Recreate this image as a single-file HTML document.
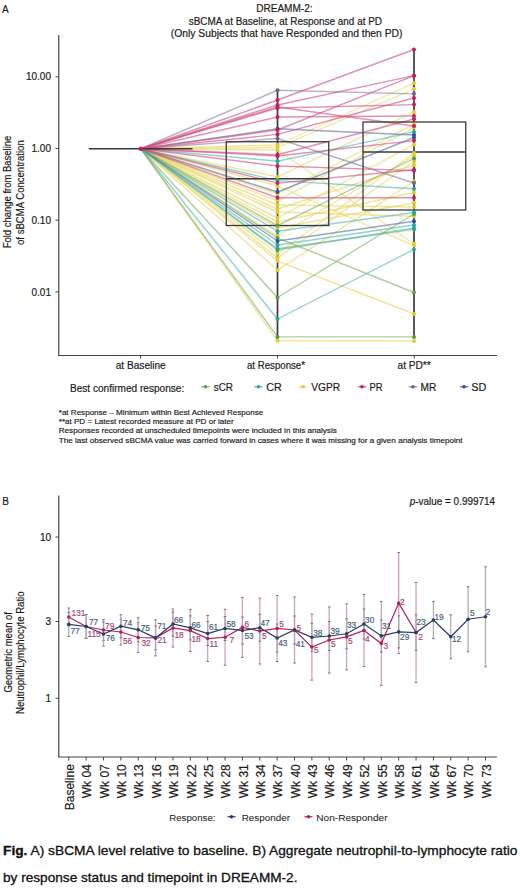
<!DOCTYPE html>
<html><head><meta charset="utf-8"><title>DREAMM-2 figure</title>
<style>
html,body{margin:0;padding:0;background:#fff;}
body{width:520px;height:890px;overflow:hidden;}
svg{display:block;font-family:"Liberation Sans", sans-serif;}
</style></head><body>
<svg width="520" height="890" viewBox="0 0 520 890">
<rect width="520" height="890" fill="#fff"/>
<text x="2.1" y="12.8" font-size="10" text-anchor="start" fill="#1a1a1a" stroke="#1a1a1a" stroke-width="0.18" >A</text>
<text x="256.25" y="12.2" font-size="10" text-anchor="start" fill="#1a1a1a" stroke="#1a1a1a" stroke-width="0.18" textLength="56.25" lengthAdjust="spacingAndGlyphs" >DREAMM-2:</text>
<text x="188.75" y="24.6" font-size="10" text-anchor="start" fill="#1a1a1a" stroke="#1a1a1a" stroke-width="0.18" textLength="193.25" lengthAdjust="spacingAndGlyphs" >sBCMA at Baseline, at Response and at PD</text>
<text x="170.75" y="37.1" font-size="10" text-anchor="start" fill="#1a1a1a" stroke="#1a1a1a" stroke-width="0.18" textLength="231.75" lengthAdjust="spacingAndGlyphs" >(Only Subjects that have Responded and then PD)</text>
<g stroke-width="1.45" stroke-opacity="0.62" fill="none">
<line x1="140.75" y1="148.75" x2="277.5" y2="145" stroke="#e8d560"/>
<line x1="140.75" y1="148.75" x2="277.5" y2="147.5" stroke="#e8d560"/>
<line x1="140.75" y1="148.75" x2="277.5" y2="176.9" stroke="#e8d560"/>
<line x1="140.75" y1="148.75" x2="277.5" y2="193.75" stroke="#e8d560"/>
<line x1="140.75" y1="148.75" x2="277.5" y2="200.6" stroke="#e8d560"/>
<line x1="140.75" y1="148.75" x2="277.5" y2="218" stroke="#e8d560"/>
<line x1="140.75" y1="148.75" x2="277.5" y2="253.75" stroke="#e8d560"/>
<line x1="140.75" y1="148.75" x2="277.5" y2="236" stroke="#e8d560"/>
<line x1="140.75" y1="148.75" x2="277.5" y2="258" stroke="#e8d560"/>
<line x1="140.75" y1="148.75" x2="277.5" y2="261" stroke="#e8d560"/>
<line x1="140.75" y1="148.75" x2="277.5" y2="209" stroke="#e8d560"/>
<line x1="140.75" y1="148.75" x2="277.5" y2="270" stroke="#e8d560"/>
<line x1="140.75" y1="148.75" x2="277.5" y2="222" stroke="#e8d560"/>
<line x1="140.75" y1="148.75" x2="277.5" y2="228" stroke="#e8d560"/>
<line x1="140.75" y1="148.75" x2="277.5" y2="205" stroke="#e8d560"/>
<line x1="140.75" y1="148.75" x2="277.5" y2="212" stroke="#e8d560"/>
<line x1="140.75" y1="148.75" x2="277.5" y2="150" stroke="#e8d560"/>
<line x1="140.75" y1="148.75" x2="277.5" y2="186" stroke="#e8d560"/>
<line x1="140.75" y1="148.75" x2="277.5" y2="340.6" stroke="#e8d560"/>
<line x1="140.75" y1="148.75" x2="277.5" y2="225.6" stroke="#7fae5f"/>
<line x1="140.75" y1="148.75" x2="277.5" y2="238" stroke="#7fae5f"/>
<line x1="140.75" y1="148.75" x2="277.5" y2="248.75" stroke="#7fae5f"/>
<line x1="140.75" y1="148.75" x2="277.5" y2="297.5" stroke="#7fae5f"/>
<line x1="140.75" y1="148.75" x2="277.5" y2="336.9" stroke="#7fae5f"/>
<line x1="140.75" y1="148.75" x2="277.5" y2="161.25" stroke="#4cb8b6"/>
<line x1="140.75" y1="148.75" x2="277.5" y2="180.6" stroke="#4cb8b6"/>
<line x1="140.75" y1="148.75" x2="277.5" y2="231.25" stroke="#4cb8b6"/>
<line x1="140.75" y1="148.75" x2="277.5" y2="245" stroke="#4cb8b6"/>
<line x1="140.75" y1="148.75" x2="277.5" y2="319" stroke="#4cb8b6"/>
<line x1="140.75" y1="148.75" x2="277.5" y2="250" stroke="#4cb8b6"/>
<line x1="140.75" y1="148.75" x2="277.5" y2="128.75" stroke="#5570aa"/>
<line x1="140.75" y1="148.75" x2="277.5" y2="192" stroke="#5570aa"/>
<line x1="140.75" y1="148.75" x2="277.5" y2="241" stroke="#5570aa"/>
<line x1="140.75" y1="148.75" x2="277.5" y2="90.25" stroke="#857fa5"/>
<line x1="140.75" y1="148.75" x2="277.5" y2="138.5" stroke="#857fa5"/>
<line x1="140.75" y1="148.75" x2="277.5" y2="100" stroke="#cf4f80"/>
<line x1="140.75" y1="148.75" x2="277.5" y2="105" stroke="#cf4f80"/>
<line x1="140.75" y1="148.75" x2="277.5" y2="108" stroke="#cf4f80"/>
<line x1="140.75" y1="148.75" x2="277.5" y2="117" stroke="#cf4f80"/>
<line x1="140.75" y1="148.75" x2="277.5" y2="134.4" stroke="#cf4f80"/>
<line x1="140.75" y1="148.75" x2="277.5" y2="154.75" stroke="#cf4f80"/>
<line x1="140.75" y1="148.75" x2="277.5" y2="156" stroke="#cf4f80"/>
<line x1="140.75" y1="148.75" x2="277.5" y2="166" stroke="#cf4f80"/>
<line x1="140.75" y1="148.75" x2="277.5" y2="183.1" stroke="#cf4f80"/>
<line x1="140.75" y1="148.75" x2="277.5" y2="197.75" stroke="#cf4f80"/>
<line x1="140.75" y1="148.75" x2="277.5" y2="130" stroke="#cf4f80"/>
<line x1="140.75" y1="148.75" x2="277.5" y2="107" stroke="#cf4f80"/>
</g>
<g stroke-width="1.35" stroke-opacity="0.62" fill="none">
<line x1="277.5" y1="145" x2="414.0" y2="83" stroke="#e8d560"/>
<line x1="277.5" y1="147.5" x2="414.0" y2="89" stroke="#e8d560"/>
<line x1="277.5" y1="176.9" x2="414.0" y2="112" stroke="#e8d560"/>
<line x1="277.5" y1="193.75" x2="414.0" y2="124.4" stroke="#e8d560"/>
<line x1="277.5" y1="200.6" x2="414.0" y2="127.5" stroke="#e8d560"/>
<line x1="277.5" y1="218" x2="414.0" y2="144.4" stroke="#e8d560"/>
<line x1="277.5" y1="253.75" x2="414.0" y2="153" stroke="#e8d560"/>
<line x1="277.5" y1="236" x2="414.0" y2="156" stroke="#e8d560"/>
<line x1="277.5" y1="258" x2="414.0" y2="161.25" stroke="#e8d560"/>
<line x1="277.5" y1="261" x2="414.0" y2="314" stroke="#e8d560"/>
<line x1="277.5" y1="209" x2="414.0" y2="165" stroke="#e8d560"/>
<line x1="277.5" y1="270" x2="414.0" y2="181.25" stroke="#e8d560"/>
<line x1="277.5" y1="222" x2="414.0" y2="192.5" stroke="#e8d560"/>
<line x1="277.5" y1="228" x2="414.0" y2="202.75" stroke="#e8d560"/>
<line x1="277.5" y1="205" x2="414.0" y2="207" stroke="#e8d560"/>
<line x1="277.5" y1="212" x2="414.0" y2="216.25" stroke="#e8d560"/>
<line x1="277.5" y1="150" x2="414.0" y2="243.75" stroke="#e8d560"/>
<line x1="277.5" y1="186" x2="414.0" y2="245.6" stroke="#e8d560"/>
<line x1="277.5" y1="340.6" x2="414.0" y2="341" stroke="#e8d560"/>
<line x1="277.5" y1="225.6" x2="414.0" y2="158.5" stroke="#7fae5f"/>
<line x1="277.5" y1="238" x2="414.0" y2="292.5" stroke="#7fae5f"/>
<line x1="277.5" y1="248.75" x2="414.0" y2="229.4" stroke="#7fae5f"/>
<line x1="277.5" y1="297.5" x2="414.0" y2="214" stroke="#7fae5f"/>
<line x1="277.5" y1="336.9" x2="414.0" y2="336.9" stroke="#7fae5f"/>
<line x1="277.5" y1="161.25" x2="414.0" y2="131.9" stroke="#4cb8b6"/>
<line x1="277.5" y1="180.6" x2="414.0" y2="188.75" stroke="#4cb8b6"/>
<line x1="277.5" y1="231.25" x2="414.0" y2="212.5" stroke="#4cb8b6"/>
<line x1="277.5" y1="245" x2="414.0" y2="225" stroke="#4cb8b6"/>
<line x1="277.5" y1="319" x2="414.0" y2="249.4" stroke="#4cb8b6"/>
<line x1="277.5" y1="250" x2="414.0" y2="228" stroke="#4cb8b6"/>
<line x1="277.5" y1="128.75" x2="414.0" y2="135" stroke="#5570aa"/>
<line x1="277.5" y1="192" x2="414.0" y2="137.5" stroke="#5570aa"/>
<line x1="277.5" y1="241" x2="414.0" y2="221.25" stroke="#5570aa"/>
<line x1="277.5" y1="90.25" x2="414.0" y2="93.8" stroke="#857fa5"/>
<line x1="277.5" y1="138.5" x2="414.0" y2="183" stroke="#857fa5"/>
<line x1="277.5" y1="100" x2="414.0" y2="49.5" stroke="#cf4f80"/>
<line x1="277.5" y1="105" x2="414.0" y2="75.7" stroke="#cf4f80"/>
<line x1="277.5" y1="108" x2="414.0" y2="104.6" stroke="#cf4f80"/>
<line x1="277.5" y1="117" x2="414.0" y2="116" stroke="#cf4f80"/>
<line x1="277.5" y1="134.4" x2="414.0" y2="98" stroke="#cf4f80"/>
<line x1="277.5" y1="154.75" x2="414.0" y2="119" stroke="#cf4f80"/>
<line x1="277.5" y1="156" x2="414.0" y2="140.6" stroke="#cf4f80"/>
<line x1="277.5" y1="166" x2="414.0" y2="170.6" stroke="#cf4f80"/>
<line x1="277.5" y1="183.1" x2="414.0" y2="169.75" stroke="#cf4f80"/>
<line x1="277.5" y1="197.75" x2="414.0" y2="197.75" stroke="#cf4f80"/>
<line x1="277.5" y1="130" x2="414.0" y2="75.7" stroke="#cf4f80"/>
<line x1="277.5" y1="107" x2="414.0" y2="126" stroke="#cf4f80"/>
</g>
<line x1="88.75" y1="148.75" x2="192.50" y2="148.75" stroke="#3a3a3a" stroke-width="1.5" />
<line x1="277.50" y1="90.25" x2="277.50" y2="336.90" stroke="#3a3a3a" stroke-width="1.7" />
<line x1="414.00" y1="49.50" x2="414.00" y2="337.00" stroke="#3a3a3a" stroke-width="1.7" />
<rect x="226.25" y="141.75" width="102.5" height="83.75" fill="none" stroke="#3a3a3a" stroke-width="1.3"/>
<line x1="226.25" y1="178.75" x2="328.75" y2="178.75" stroke="#3a3a3a" stroke-width="1.3" />
<rect x="363" y="122" width="102.75" height="88" fill="none" stroke="#3a3a3a" stroke-width="1.3"/>
<line x1="363.00" y1="152.00" x2="465.75" y2="152.00" stroke="#3a3a3a" stroke-width="1.3" />
<circle cx="140.75" cy="148.75" r="2.2" fill="#c81c5c"/>
<circle cx="277.5" cy="145" r="2" fill="#e2cc2c"/>
<circle cx="414.0" cy="83" r="2" fill="#e2cc2c"/>
<circle cx="277.5" cy="147.5" r="2" fill="#e2cc2c"/>
<circle cx="414.0" cy="89" r="2" fill="#e2cc2c"/>
<circle cx="277.5" cy="176.9" r="2" fill="#e2cc2c"/>
<circle cx="414.0" cy="112" r="2" fill="#e2cc2c"/>
<circle cx="277.5" cy="193.75" r="2" fill="#e2cc2c"/>
<circle cx="414.0" cy="124.4" r="2" fill="#e2cc2c"/>
<circle cx="277.5" cy="200.6" r="2" fill="#e2cc2c"/>
<circle cx="414.0" cy="127.5" r="2" fill="#e2cc2c"/>
<circle cx="277.5" cy="218" r="2" fill="#e2cc2c"/>
<circle cx="414.0" cy="144.4" r="2" fill="#e2cc2c"/>
<circle cx="277.5" cy="253.75" r="2" fill="#e2cc2c"/>
<circle cx="414.0" cy="153" r="2" fill="#e2cc2c"/>
<circle cx="277.5" cy="236" r="2" fill="#e2cc2c"/>
<circle cx="414.0" cy="156" r="2" fill="#e2cc2c"/>
<circle cx="277.5" cy="258" r="2" fill="#e2cc2c"/>
<circle cx="414.0" cy="161.25" r="2" fill="#e2cc2c"/>
<circle cx="277.5" cy="261" r="2" fill="#e2cc2c"/>
<circle cx="414.0" cy="314" r="2" fill="#e2cc2c"/>
<circle cx="277.5" cy="209" r="2" fill="#e2cc2c"/>
<circle cx="414.0" cy="165" r="2" fill="#e2cc2c"/>
<circle cx="277.5" cy="270" r="2" fill="#e2cc2c"/>
<circle cx="414.0" cy="181.25" r="2" fill="#e2cc2c"/>
<circle cx="277.5" cy="222" r="2" fill="#e2cc2c"/>
<circle cx="414.0" cy="192.5" r="2" fill="#e2cc2c"/>
<circle cx="277.5" cy="228" r="2" fill="#e2cc2c"/>
<circle cx="414.0" cy="202.75" r="2" fill="#e2cc2c"/>
<circle cx="277.5" cy="205" r="2" fill="#e2cc2c"/>
<circle cx="414.0" cy="207" r="2" fill="#e2cc2c"/>
<circle cx="277.5" cy="212" r="2" fill="#e2cc2c"/>
<circle cx="414.0" cy="216.25" r="2" fill="#e2cc2c"/>
<circle cx="277.5" cy="150" r="2" fill="#e2cc2c"/>
<circle cx="414.0" cy="243.75" r="2" fill="#e2cc2c"/>
<circle cx="277.5" cy="186" r="2" fill="#e2cc2c"/>
<circle cx="414.0" cy="245.6" r="2" fill="#e2cc2c"/>
<circle cx="277.5" cy="340.6" r="2" fill="#e2cc2c"/>
<circle cx="414.0" cy="341" r="2" fill="#e2cc2c"/>
<circle cx="277.5" cy="225.6" r="2" fill="#5e9a4a"/>
<circle cx="414.0" cy="158.5" r="2" fill="#5e9a4a"/>
<circle cx="277.5" cy="238" r="2" fill="#5e9a4a"/>
<circle cx="414.0" cy="292.5" r="2" fill="#5e9a4a"/>
<circle cx="277.5" cy="248.75" r="2" fill="#5e9a4a"/>
<circle cx="414.0" cy="229.4" r="2" fill="#5e9a4a"/>
<circle cx="277.5" cy="297.5" r="2" fill="#5e9a4a"/>
<circle cx="414.0" cy="214" r="2" fill="#5e9a4a"/>
<circle cx="277.5" cy="336.9" r="2" fill="#5e9a4a"/>
<circle cx="414.0" cy="336.9" r="2" fill="#5e9a4a"/>
<circle cx="277.5" cy="161.25" r="2" fill="#1fa9a3"/>
<circle cx="414.0" cy="131.9" r="2" fill="#1fa9a3"/>
<circle cx="277.5" cy="180.6" r="2" fill="#1fa9a3"/>
<circle cx="414.0" cy="188.75" r="2" fill="#1fa9a3"/>
<circle cx="277.5" cy="231.25" r="2" fill="#1fa9a3"/>
<circle cx="414.0" cy="212.5" r="2" fill="#1fa9a3"/>
<circle cx="277.5" cy="245" r="2" fill="#1fa9a3"/>
<circle cx="414.0" cy="225" r="2" fill="#1fa9a3"/>
<circle cx="277.5" cy="319" r="2" fill="#1fa9a3"/>
<circle cx="414.0" cy="249.4" r="2" fill="#1fa9a3"/>
<circle cx="277.5" cy="250" r="2" fill="#1fa9a3"/>
<circle cx="414.0" cy="228" r="2" fill="#1fa9a3"/>
<circle cx="277.5" cy="128.75" r="2" fill="#2d4f93"/>
<circle cx="414.0" cy="135" r="2" fill="#2d4f93"/>
<circle cx="277.5" cy="192" r="2" fill="#2d4f93"/>
<circle cx="414.0" cy="137.5" r="2" fill="#2d4f93"/>
<circle cx="277.5" cy="241" r="2" fill="#2d4f93"/>
<circle cx="414.0" cy="221.25" r="2" fill="#2d4f93"/>
<circle cx="277.5" cy="90.25" r="2" fill="#6d6591"/>
<circle cx="414.0" cy="93.8" r="2" fill="#6d6591"/>
<circle cx="277.5" cy="138.5" r="2" fill="#6d6591"/>
<circle cx="414.0" cy="183" r="2" fill="#6d6591"/>
<circle cx="277.5" cy="100" r="2" fill="#c81c5c"/>
<circle cx="414.0" cy="49.5" r="2" fill="#c81c5c"/>
<circle cx="277.5" cy="105" r="2" fill="#c81c5c"/>
<circle cx="414.0" cy="75.7" r="2" fill="#c81c5c"/>
<circle cx="277.5" cy="108" r="2" fill="#c81c5c"/>
<circle cx="414.0" cy="104.6" r="2" fill="#c81c5c"/>
<circle cx="277.5" cy="117" r="2" fill="#c81c5c"/>
<circle cx="414.0" cy="116" r="2" fill="#c81c5c"/>
<circle cx="277.5" cy="134.4" r="2" fill="#c81c5c"/>
<circle cx="414.0" cy="98" r="2" fill="#c81c5c"/>
<circle cx="277.5" cy="154.75" r="2" fill="#c81c5c"/>
<circle cx="414.0" cy="119" r="2" fill="#c81c5c"/>
<circle cx="277.5" cy="156" r="2" fill="#c81c5c"/>
<circle cx="414.0" cy="140.6" r="2" fill="#c81c5c"/>
<circle cx="277.5" cy="166" r="2" fill="#c81c5c"/>
<circle cx="414.0" cy="170.6" r="2" fill="#c81c5c"/>
<circle cx="277.5" cy="183.1" r="2" fill="#c81c5c"/>
<circle cx="414.0" cy="169.75" r="2" fill="#c81c5c"/>
<circle cx="277.5" cy="197.75" r="2" fill="#c81c5c"/>
<circle cx="414.0" cy="197.75" r="2" fill="#c81c5c"/>
<circle cx="277.5" cy="130" r="2" fill="#c81c5c"/>
<circle cx="414.0" cy="75.7" r="2" fill="#c81c5c"/>
<circle cx="277.5" cy="107" r="2" fill="#c81c5c"/>
<circle cx="414.0" cy="126" r="2" fill="#c81c5c"/>
<line x1="58.75" y1="35.00" x2="58.75" y2="355.50" stroke="#444" stroke-width="1.2" />
<line x1="58.15" y1="355.50" x2="497.00" y2="355.50" stroke="#444" stroke-width="1.2" />
<line x1="55.50" y1="76.80" x2="58.75" y2="76.80" stroke="#444" stroke-width="1" />
<text x="51" y="80.39999999999999" font-size="10" text-anchor="end" fill="#1a1a1a" stroke="#1a1a1a" stroke-width="0.18" >10.00</text>
<line x1="55.50" y1="148.50" x2="58.75" y2="148.50" stroke="#444" stroke-width="1" />
<text x="51" y="152.1" font-size="10" text-anchor="end" fill="#1a1a1a" stroke="#1a1a1a" stroke-width="0.18" >1.00</text>
<line x1="55.50" y1="220.20" x2="58.75" y2="220.20" stroke="#444" stroke-width="1" />
<text x="51" y="223.79999999999998" font-size="10" text-anchor="end" fill="#1a1a1a" stroke="#1a1a1a" stroke-width="0.18" >0.10</text>
<line x1="55.50" y1="291.90" x2="58.75" y2="291.90" stroke="#444" stroke-width="1" />
<text x="51" y="295.5" font-size="10" text-anchor="end" fill="#1a1a1a" stroke="#1a1a1a" stroke-width="0.18" >0.01</text>
<line x1="140.50" y1="355.50" x2="140.50" y2="358.50" stroke="#444" stroke-width="1" />
<line x1="277.50" y1="355.50" x2="277.50" y2="358.50" stroke="#444" stroke-width="1" />
<line x1="414.25" y1="355.50" x2="414.25" y2="358.50" stroke="#444" stroke-width="1" />
<text x="115.75" y="369.2" font-size="10" text-anchor="start" fill="#1a1a1a" stroke="#1a1a1a" stroke-width="0.18" textLength="50" lengthAdjust="spacingAndGlyphs" >at Baseline</text>
<text x="247" y="369.2" font-size="10" text-anchor="start" fill="#1a1a1a" stroke="#1a1a1a" stroke-width="0.18" textLength="58" lengthAdjust="spacingAndGlyphs" >at Response*</text>
<text x="397.5" y="369.2" font-size="10" text-anchor="start" fill="#1a1a1a" stroke="#1a1a1a" stroke-width="0.18" textLength="33.25" lengthAdjust="spacingAndGlyphs" >at PD**</text>
<text transform="translate(11.4,192) rotate(-90)" font-size="10" text-anchor="middle" fill="#1a1a1a" stroke="#1a1a1a" stroke-width="0.18" textLength="112.6" lengthAdjust="spacingAndGlyphs">Fold change from Baseline</text>
<text transform="translate(23.5,192.6) rotate(-90)" font-size="10" text-anchor="middle" fill="#1a1a1a" stroke="#1a1a1a" stroke-width="0.18" textLength="104.7" lengthAdjust="spacingAndGlyphs">of sBCMA Concentration</text>
<text x="70" y="391.5" font-size="10" text-anchor="start" fill="#1a1a1a" stroke="#1a1a1a" stroke-width="0.18" textLength="114.25" lengthAdjust="spacingAndGlyphs" >Best confirmed response:</text>
<line x1="201.20" y1="386.80" x2="209.60" y2="386.80" stroke="#7fae5f" stroke-width="1.2" />
<circle cx="205.4" cy="386.8" r="1.8" fill="#5e9a4a"/>
<text x="213.75" y="391.4" font-size="10" text-anchor="start" fill="#1a1a1a" stroke="#1a1a1a" stroke-width="0.18" textLength="19.25" lengthAdjust="spacingAndGlyphs" >sCR</text>
<line x1="254.30" y1="386.80" x2="262.70" y2="386.80" stroke="#4cb8b6" stroke-width="1.2" />
<circle cx="258.5" cy="386.8" r="1.8" fill="#1fa9a3"/>
<text x="266.25" y="391.4" font-size="10" text-anchor="start" fill="#1a1a1a" stroke="#1a1a1a" stroke-width="0.18" textLength="15.5" lengthAdjust="spacingAndGlyphs" >CR</text>
<line x1="298.90" y1="386.80" x2="307.30" y2="386.80" stroke="#e8d560" stroke-width="1.2" />
<circle cx="303.1" cy="386.8" r="1.8" fill="#e2cc2c"/>
<text x="311.25" y="391.4" font-size="10" text-anchor="start" fill="#1a1a1a" stroke="#1a1a1a" stroke-width="0.18" textLength="28.75" lengthAdjust="spacingAndGlyphs" >VGPR</text>
<line x1="357.70" y1="386.80" x2="366.10" y2="386.80" stroke="#cf4f80" stroke-width="1.2" />
<circle cx="361.9" cy="386.8" r="1.8" fill="#c81c5c"/>
<text x="369.5" y="391.4" font-size="10" text-anchor="start" fill="#1a1a1a" stroke="#1a1a1a" stroke-width="0.18" textLength="13" lengthAdjust="spacingAndGlyphs" >PR</text>
<line x1="408.70" y1="386.80" x2="417.10" y2="386.80" stroke="#857fa5" stroke-width="1.2" />
<circle cx="412.9" cy="386.8" r="1.8" fill="#6d6591"/>
<text x="420.5" y="391.4" font-size="10" text-anchor="start" fill="#1a1a1a" stroke="#1a1a1a" stroke-width="0.18" textLength="15.75" lengthAdjust="spacingAndGlyphs" >MR</text>
<line x1="459.80" y1="386.80" x2="468.20" y2="386.80" stroke="#5570aa" stroke-width="1.2" />
<circle cx="464" cy="386.8" r="1.8" fill="#2d4f93"/>
<text x="471.25" y="391.4" font-size="10" text-anchor="start" fill="#1a1a1a" stroke="#1a1a1a" stroke-width="0.18" textLength="15" lengthAdjust="spacingAndGlyphs" >SD</text>
<text x="58.75" y="414.5" font-size="8.1" text-anchor="start" fill="#1a1a1a" stroke="#1a1a1a" stroke-width="0.18" textLength="204.5" lengthAdjust="spacingAndGlyphs" >*at Response – Minimum within Best Achieved Response</text>
<text x="58.75" y="423.92" font-size="8.1" text-anchor="start" fill="#1a1a1a" stroke="#1a1a1a" stroke-width="0.18" textLength="175" lengthAdjust="spacingAndGlyphs" >**at PD = Latest recorded measure at PD or later</text>
<text x="58.75" y="433.34" font-size="8.1" text-anchor="start" fill="#1a1a1a" stroke="#1a1a1a" stroke-width="0.18" textLength="278" lengthAdjust="spacingAndGlyphs" >Responses recorded at unscheduled timepoints were included in this analysis</text>
<text x="58.75" y="442.76" font-size="8.1" text-anchor="start" fill="#1a1a1a" stroke="#1a1a1a" stroke-width="0.18" textLength="403.75" lengthAdjust="spacingAndGlyphs" >The last observed sBCMA value was carried forward in cases where it was missing for a given analysis timepoint</text>
<text x="2.3" y="504.7" font-size="10" text-anchor="start" fill="#1a1a1a" stroke="#1a1a1a" stroke-width="0.18" >B</text>
<line x1="58.75" y1="495.50" x2="58.75" y2="757.00" stroke="#444" stroke-width="1.2" />
<line x1="58.15" y1="757.00" x2="497.00" y2="757.00" stroke="#444" stroke-width="1.2" />
<line x1="55.50" y1="537.00" x2="58.75" y2="537.00" stroke="#444" stroke-width="1" />
<text x="51" y="540.6" font-size="10" text-anchor="end" fill="#1a1a1a" stroke="#1a1a1a" stroke-width="0.18" >10</text>
<line x1="55.50" y1="621.50" x2="58.75" y2="621.50" stroke="#444" stroke-width="1" />
<text x="51" y="625.1" font-size="10" text-anchor="end" fill="#1a1a1a" stroke="#1a1a1a" stroke-width="0.18" >3</text>
<line x1="55.50" y1="698.25" x2="58.75" y2="698.25" stroke="#444" stroke-width="1" />
<text x="51" y="701.85" font-size="10" text-anchor="end" fill="#1a1a1a" stroke="#1a1a1a" stroke-width="0.18" >1</text>
<text x="409.7" y="504.6" font-size="10" text-anchor="start" fill="#1a1a1a" stroke="#1a1a1a" stroke-width="0.18" textLength="85.4" lengthAdjust="spacingAndGlyphs" ><tspan font-style="italic">p</tspan>-value = 0.999714</text>
<text transform="translate(11.9,652.3) rotate(-90)" font-size="10" text-anchor="middle" fill="#1a1a1a" stroke="#1a1a1a" stroke-width="0.18" textLength="80.5" lengthAdjust="spacingAndGlyphs">Geometric mean of</text>
<text transform="translate(23.6,652.75) rotate(-90)" font-size="10" text-anchor="middle" fill="#1a1a1a" stroke="#1a1a1a" stroke-width="0.18" textLength="122.5" lengthAdjust="spacingAndGlyphs">Neutrophil/Lymphocyte Ratio</text>
<line x1="68.75" y1="757.00" x2="68.75" y2="760.50" stroke="#444" stroke-width="1" />
<text transform="translate(73.95,764.2) rotate(-90)" font-size="12" text-anchor="end" fill="#1a1a1a" stroke="#1a1a1a" stroke-width="0.18">Baseline</text>
<line x1="86.11" y1="757.00" x2="86.11" y2="760.50" stroke="#444" stroke-width="1" />
<text transform="translate(91.31,764.2) rotate(-90)" font-size="12" text-anchor="end" fill="#1a1a1a" stroke="#1a1a1a" stroke-width="0.18">Wk 04</text>
<line x1="103.48" y1="757.00" x2="103.48" y2="760.50" stroke="#444" stroke-width="1" />
<text transform="translate(108.68,764.2) rotate(-90)" font-size="12" text-anchor="end" fill="#1a1a1a" stroke="#1a1a1a" stroke-width="0.18">Wk 07</text>
<line x1="120.84" y1="757.00" x2="120.84" y2="760.50" stroke="#444" stroke-width="1" />
<text transform="translate(126.05,764.2) rotate(-90)" font-size="12" text-anchor="end" fill="#1a1a1a" stroke="#1a1a1a" stroke-width="0.18">Wk 10</text>
<line x1="138.21" y1="757.00" x2="138.21" y2="760.50" stroke="#444" stroke-width="1" />
<text transform="translate(143.41,764.2) rotate(-90)" font-size="12" text-anchor="end" fill="#1a1a1a" stroke="#1a1a1a" stroke-width="0.18">Wk 13</text>
<line x1="155.57" y1="757.00" x2="155.57" y2="760.50" stroke="#444" stroke-width="1" />
<text transform="translate(160.77,764.2) rotate(-90)" font-size="12" text-anchor="end" fill="#1a1a1a" stroke="#1a1a1a" stroke-width="0.18">Wk 16</text>
<line x1="172.94" y1="757.00" x2="172.94" y2="760.50" stroke="#444" stroke-width="1" />
<text transform="translate(178.14,764.2) rotate(-90)" font-size="12" text-anchor="end" fill="#1a1a1a" stroke="#1a1a1a" stroke-width="0.18">Wk 19</text>
<line x1="190.31" y1="757.00" x2="190.31" y2="760.50" stroke="#444" stroke-width="1" />
<text transform="translate(195.50,764.2) rotate(-90)" font-size="12" text-anchor="end" fill="#1a1a1a" stroke="#1a1a1a" stroke-width="0.18">Wk 22</text>
<line x1="207.67" y1="757.00" x2="207.67" y2="760.50" stroke="#444" stroke-width="1" />
<text transform="translate(212.87,764.2) rotate(-90)" font-size="12" text-anchor="end" fill="#1a1a1a" stroke="#1a1a1a" stroke-width="0.18">Wk 25</text>
<line x1="225.03" y1="757.00" x2="225.03" y2="760.50" stroke="#444" stroke-width="1" />
<text transform="translate(230.23,764.2) rotate(-90)" font-size="12" text-anchor="end" fill="#1a1a1a" stroke="#1a1a1a" stroke-width="0.18">Wk 28</text>
<line x1="242.40" y1="757.00" x2="242.40" y2="760.50" stroke="#444" stroke-width="1" />
<text transform="translate(247.60,764.2) rotate(-90)" font-size="12" text-anchor="end" fill="#1a1a1a" stroke="#1a1a1a" stroke-width="0.18">Wk 31</text>
<line x1="259.76" y1="757.00" x2="259.76" y2="760.50" stroke="#444" stroke-width="1" />
<text transform="translate(264.96,764.2) rotate(-90)" font-size="12" text-anchor="end" fill="#1a1a1a" stroke="#1a1a1a" stroke-width="0.18">Wk 34</text>
<line x1="277.13" y1="757.00" x2="277.13" y2="760.50" stroke="#444" stroke-width="1" />
<text transform="translate(282.33,764.2) rotate(-90)" font-size="12" text-anchor="end" fill="#1a1a1a" stroke="#1a1a1a" stroke-width="0.18">Wk 37</text>
<line x1="294.50" y1="757.00" x2="294.50" y2="760.50" stroke="#444" stroke-width="1" />
<text transform="translate(299.69,764.2) rotate(-90)" font-size="12" text-anchor="end" fill="#1a1a1a" stroke="#1a1a1a" stroke-width="0.18">Wk 40</text>
<line x1="311.86" y1="757.00" x2="311.86" y2="760.50" stroke="#444" stroke-width="1" />
<text transform="translate(317.06,764.2) rotate(-90)" font-size="12" text-anchor="end" fill="#1a1a1a" stroke="#1a1a1a" stroke-width="0.18">Wk 43</text>
<line x1="329.22" y1="757.00" x2="329.22" y2="760.50" stroke="#444" stroke-width="1" />
<text transform="translate(334.42,764.2) rotate(-90)" font-size="12" text-anchor="end" fill="#1a1a1a" stroke="#1a1a1a" stroke-width="0.18">Wk 46</text>
<line x1="346.59" y1="757.00" x2="346.59" y2="760.50" stroke="#444" stroke-width="1" />
<text transform="translate(351.79,764.2) rotate(-90)" font-size="12" text-anchor="end" fill="#1a1a1a" stroke="#1a1a1a" stroke-width="0.18">Wk 49</text>
<line x1="363.95" y1="757.00" x2="363.95" y2="760.50" stroke="#444" stroke-width="1" />
<text transform="translate(369.15,764.2) rotate(-90)" font-size="12" text-anchor="end" fill="#1a1a1a" stroke="#1a1a1a" stroke-width="0.18">Wk 52</text>
<line x1="381.32" y1="757.00" x2="381.32" y2="760.50" stroke="#444" stroke-width="1" />
<text transform="translate(386.52,764.2) rotate(-90)" font-size="12" text-anchor="end" fill="#1a1a1a" stroke="#1a1a1a" stroke-width="0.18">Wk 55</text>
<line x1="398.68" y1="757.00" x2="398.68" y2="760.50" stroke="#444" stroke-width="1" />
<text transform="translate(403.88,764.2) rotate(-90)" font-size="12" text-anchor="end" fill="#1a1a1a" stroke="#1a1a1a" stroke-width="0.18">Wk 58</text>
<line x1="416.05" y1="757.00" x2="416.05" y2="760.50" stroke="#444" stroke-width="1" />
<text transform="translate(421.25,764.2) rotate(-90)" font-size="12" text-anchor="end" fill="#1a1a1a" stroke="#1a1a1a" stroke-width="0.18">Wk 61</text>
<line x1="433.41" y1="757.00" x2="433.41" y2="760.50" stroke="#444" stroke-width="1" />
<text transform="translate(438.61,764.2) rotate(-90)" font-size="12" text-anchor="end" fill="#1a1a1a" stroke="#1a1a1a" stroke-width="0.18">Wk 64</text>
<line x1="450.78" y1="757.00" x2="450.78" y2="760.50" stroke="#444" stroke-width="1" />
<text transform="translate(455.98,764.2) rotate(-90)" font-size="12" text-anchor="end" fill="#1a1a1a" stroke="#1a1a1a" stroke-width="0.18">Wk 67</text>
<line x1="468.14" y1="757.00" x2="468.14" y2="760.50" stroke="#444" stroke-width="1" />
<text transform="translate(473.34,764.2) rotate(-90)" font-size="12" text-anchor="end" fill="#1a1a1a" stroke="#1a1a1a" stroke-width="0.18">Wk 70</text>
<line x1="485.51" y1="757.00" x2="485.51" y2="760.50" stroke="#444" stroke-width="1" />
<text transform="translate(490.71,764.2) rotate(-90)" font-size="12" text-anchor="end" fill="#1a1a1a" stroke="#1a1a1a" stroke-width="0.18">Wk 73</text>
<line x1="68.75" y1="608.00" x2="68.75" y2="626.00" stroke="#d4a2b6" stroke-width="1.3" />
<line x1="67.45" y1="608.00" x2="70.05" y2="608.00" stroke="#75757d" stroke-width="1" />
<line x1="67.45" y1="626.00" x2="70.05" y2="626.00" stroke="#75757d" stroke-width="1" />
<line x1="86.11" y1="614.50" x2="86.11" y2="638.50" stroke="#d4a2b6" stroke-width="1.3" />
<line x1="84.81" y1="614.50" x2="87.41" y2="614.50" stroke="#75757d" stroke-width="1" />
<line x1="84.81" y1="638.50" x2="87.41" y2="638.50" stroke="#75757d" stroke-width="1" />
<line x1="103.48" y1="619.50" x2="103.48" y2="640.50" stroke="#d4a2b6" stroke-width="1.3" />
<line x1="102.18" y1="619.50" x2="104.78" y2="619.50" stroke="#75757d" stroke-width="1" />
<line x1="102.18" y1="640.50" x2="104.78" y2="640.50" stroke="#75757d" stroke-width="1" />
<line x1="120.84" y1="619.00" x2="120.84" y2="645.00" stroke="#d4a2b6" stroke-width="1.3" />
<line x1="119.55" y1="619.00" x2="122.14" y2="619.00" stroke="#75757d" stroke-width="1" />
<line x1="119.55" y1="645.00" x2="122.14" y2="645.00" stroke="#75757d" stroke-width="1" />
<line x1="138.21" y1="622.50" x2="138.21" y2="652.50" stroke="#d4a2b6" stroke-width="1.3" />
<line x1="136.91" y1="622.50" x2="139.51" y2="622.50" stroke="#75757d" stroke-width="1" />
<line x1="136.91" y1="652.50" x2="139.51" y2="652.50" stroke="#75757d" stroke-width="1" />
<line x1="155.57" y1="619.90" x2="155.57" y2="655.90" stroke="#d4a2b6" stroke-width="1.3" />
<line x1="154.27" y1="619.90" x2="156.88" y2="619.90" stroke="#75757d" stroke-width="1" />
<line x1="154.27" y1="655.90" x2="156.88" y2="655.90" stroke="#75757d" stroke-width="1" />
<line x1="172.94" y1="609.00" x2="172.94" y2="647.00" stroke="#d4a2b6" stroke-width="1.3" />
<line x1="171.64" y1="609.00" x2="174.24" y2="609.00" stroke="#75757d" stroke-width="1" />
<line x1="171.64" y1="647.00" x2="174.24" y2="647.00" stroke="#75757d" stroke-width="1" />
<line x1="190.31" y1="609.60" x2="190.31" y2="651.60" stroke="#d4a2b6" stroke-width="1.3" />
<line x1="189.00" y1="609.60" x2="191.61" y2="609.60" stroke="#75757d" stroke-width="1" />
<line x1="189.00" y1="651.60" x2="191.61" y2="651.60" stroke="#75757d" stroke-width="1" />
<line x1="207.67" y1="615.50" x2="207.67" y2="661.50" stroke="#d4a2b6" stroke-width="1.3" />
<line x1="206.37" y1="615.50" x2="208.97" y2="615.50" stroke="#75757d" stroke-width="1" />
<line x1="206.37" y1="661.50" x2="208.97" y2="661.50" stroke="#75757d" stroke-width="1" />
<line x1="225.03" y1="609.25" x2="225.03" y2="665.25" stroke="#d4a2b6" stroke-width="1.3" />
<line x1="223.73" y1="609.25" x2="226.34" y2="609.25" stroke="#75757d" stroke-width="1" />
<line x1="223.73" y1="665.25" x2="226.34" y2="665.25" stroke="#75757d" stroke-width="1" />
<line x1="242.40" y1="597.40" x2="242.40" y2="657.40" stroke="#d4a2b6" stroke-width="1.3" />
<line x1="241.10" y1="597.40" x2="243.70" y2="597.40" stroke="#75757d" stroke-width="1" />
<line x1="241.10" y1="657.40" x2="243.70" y2="657.40" stroke="#75757d" stroke-width="1" />
<line x1="259.76" y1="598.00" x2="259.76" y2="664.00" stroke="#d4a2b6" stroke-width="1.3" />
<line x1="258.46" y1="598.00" x2="261.06" y2="598.00" stroke="#75757d" stroke-width="1" />
<line x1="258.46" y1="664.00" x2="261.06" y2="664.00" stroke="#75757d" stroke-width="1" />
<line x1="277.13" y1="595.50" x2="277.13" y2="661.50" stroke="#d4a2b6" stroke-width="1.3" />
<line x1="275.83" y1="595.50" x2="278.43" y2="595.50" stroke="#75757d" stroke-width="1" />
<line x1="275.83" y1="661.50" x2="278.43" y2="661.50" stroke="#75757d" stroke-width="1" />
<line x1="294.50" y1="597.00" x2="294.50" y2="663.00" stroke="#d4a2b6" stroke-width="1.3" />
<line x1="293.19" y1="597.00" x2="295.80" y2="597.00" stroke="#75757d" stroke-width="1" />
<line x1="293.19" y1="663.00" x2="295.80" y2="663.00" stroke="#75757d" stroke-width="1" />
<line x1="311.86" y1="614.10" x2="311.86" y2="680.10" stroke="#d4a2b6" stroke-width="1.3" />
<line x1="310.56" y1="614.10" x2="313.16" y2="614.10" stroke="#75757d" stroke-width="1" />
<line x1="310.56" y1="680.10" x2="313.16" y2="680.10" stroke="#75757d" stroke-width="1" />
<line x1="329.22" y1="607.00" x2="329.22" y2="673.00" stroke="#d4a2b6" stroke-width="1.3" />
<line x1="327.92" y1="607.00" x2="330.52" y2="607.00" stroke="#75757d" stroke-width="1" />
<line x1="327.92" y1="673.00" x2="330.52" y2="673.00" stroke="#75757d" stroke-width="1" />
<line x1="346.59" y1="603.90" x2="346.59" y2="669.90" stroke="#d4a2b6" stroke-width="1.3" />
<line x1="345.29" y1="603.90" x2="347.89" y2="603.90" stroke="#75757d" stroke-width="1" />
<line x1="345.29" y1="669.90" x2="347.89" y2="669.90" stroke="#75757d" stroke-width="1" />
<line x1="363.95" y1="594.40" x2="363.95" y2="666.40" stroke="#d4a2b6" stroke-width="1.3" />
<line x1="362.65" y1="594.40" x2="365.25" y2="594.40" stroke="#75757d" stroke-width="1" />
<line x1="362.65" y1="666.40" x2="365.25" y2="666.40" stroke="#75757d" stroke-width="1" />
<line x1="381.32" y1="601.40" x2="381.32" y2="685.40" stroke="#d4a2b6" stroke-width="1.3" />
<line x1="380.02" y1="601.40" x2="382.62" y2="601.40" stroke="#75757d" stroke-width="1" />
<line x1="380.02" y1="685.40" x2="382.62" y2="685.40" stroke="#75757d" stroke-width="1" />
<line x1="398.68" y1="552.60" x2="398.68" y2="653.60" stroke="#d4a2b6" stroke-width="1.3" />
<line x1="397.38" y1="552.60" x2="399.98" y2="552.60" stroke="#75757d" stroke-width="1" />
<line x1="397.38" y1="653.60" x2="399.98" y2="653.60" stroke="#75757d" stroke-width="1" />
<line x1="416.05" y1="582.50" x2="416.05" y2="682.50" stroke="#d4a2b6" stroke-width="1.3" />
<line x1="414.75" y1="582.50" x2="417.35" y2="582.50" stroke="#75757d" stroke-width="1" />
<line x1="414.75" y1="682.50" x2="417.35" y2="682.50" stroke="#75757d" stroke-width="1" />
<line x1="68.75" y1="612.40" x2="68.75" y2="636.40" stroke="#a6a6ae" stroke-width="1.3" stroke-opacity="0.9"/>
<line x1="67.45" y1="612.40" x2="70.05" y2="612.40" stroke="#75757d" stroke-width="1" />
<line x1="67.45" y1="636.40" x2="70.05" y2="636.40" stroke="#75757d" stroke-width="1" />
<line x1="86.11" y1="614.50" x2="86.11" y2="638.50" stroke="#a6a6ae" stroke-width="1.3" stroke-opacity="0.9"/>
<line x1="84.81" y1="614.50" x2="87.41" y2="614.50" stroke="#75757d" stroke-width="1" />
<line x1="84.81" y1="638.50" x2="87.41" y2="638.50" stroke="#75757d" stroke-width="1" />
<line x1="103.48" y1="622.00" x2="103.48" y2="646.00" stroke="#a6a6ae" stroke-width="1.3" stroke-opacity="0.9"/>
<line x1="102.18" y1="622.00" x2="104.78" y2="622.00" stroke="#75757d" stroke-width="1" />
<line x1="102.18" y1="646.00" x2="104.78" y2="646.00" stroke="#75757d" stroke-width="1" />
<line x1="120.84" y1="614.75" x2="120.84" y2="637.75" stroke="#a6a6ae" stroke-width="1.3" stroke-opacity="0.9"/>
<line x1="119.55" y1="614.75" x2="122.14" y2="614.75" stroke="#75757d" stroke-width="1" />
<line x1="119.55" y1="637.75" x2="122.14" y2="637.75" stroke="#75757d" stroke-width="1" />
<line x1="138.21" y1="617.80" x2="138.21" y2="641.80" stroke="#a6a6ae" stroke-width="1.3" stroke-opacity="0.9"/>
<line x1="136.91" y1="617.80" x2="139.51" y2="617.80" stroke="#75757d" stroke-width="1" />
<line x1="136.91" y1="641.80" x2="139.51" y2="641.80" stroke="#75757d" stroke-width="1" />
<line x1="155.57" y1="625.90" x2="155.57" y2="649.90" stroke="#a6a6ae" stroke-width="1.3" stroke-opacity="0.9"/>
<line x1="154.27" y1="625.90" x2="156.88" y2="625.90" stroke="#75757d" stroke-width="1" />
<line x1="154.27" y1="649.90" x2="156.88" y2="649.90" stroke="#75757d" stroke-width="1" />
<line x1="172.94" y1="612.00" x2="172.94" y2="636.00" stroke="#a6a6ae" stroke-width="1.3" stroke-opacity="0.9"/>
<line x1="171.64" y1="612.00" x2="174.24" y2="612.00" stroke="#75757d" stroke-width="1" />
<line x1="171.64" y1="636.00" x2="174.24" y2="636.00" stroke="#75757d" stroke-width="1" />
<line x1="190.31" y1="615.90" x2="190.31" y2="639.90" stroke="#a6a6ae" stroke-width="1.3" stroke-opacity="0.9"/>
<line x1="189.00" y1="615.90" x2="191.61" y2="615.90" stroke="#75757d" stroke-width="1" />
<line x1="189.00" y1="639.90" x2="191.61" y2="639.90" stroke="#75757d" stroke-width="1" />
<line x1="207.67" y1="621.50" x2="207.67" y2="645.50" stroke="#a6a6ae" stroke-width="1.3" stroke-opacity="0.9"/>
<line x1="206.37" y1="621.50" x2="208.97" y2="621.50" stroke="#75757d" stroke-width="1" />
<line x1="206.37" y1="645.50" x2="208.97" y2="645.50" stroke="#75757d" stroke-width="1" />
<line x1="225.03" y1="616.50" x2="225.03" y2="640.50" stroke="#a6a6ae" stroke-width="1.3" stroke-opacity="0.9"/>
<line x1="223.73" y1="616.50" x2="226.34" y2="616.50" stroke="#75757d" stroke-width="1" />
<line x1="223.73" y1="640.50" x2="226.34" y2="640.50" stroke="#75757d" stroke-width="1" />
<line x1="242.40" y1="617.00" x2="242.40" y2="644.00" stroke="#a6a6ae" stroke-width="1.3" stroke-opacity="0.9"/>
<line x1="241.10" y1="617.00" x2="243.70" y2="617.00" stroke="#75757d" stroke-width="1" />
<line x1="241.10" y1="644.00" x2="243.70" y2="644.00" stroke="#75757d" stroke-width="1" />
<line x1="259.76" y1="614.25" x2="259.76" y2="641.25" stroke="#a6a6ae" stroke-width="1.3" stroke-opacity="0.9"/>
<line x1="258.46" y1="614.25" x2="261.06" y2="614.25" stroke="#75757d" stroke-width="1" />
<line x1="258.46" y1="641.25" x2="261.06" y2="641.25" stroke="#75757d" stroke-width="1" />
<line x1="277.13" y1="624.00" x2="277.13" y2="652.00" stroke="#a6a6ae" stroke-width="1.3" stroke-opacity="0.9"/>
<line x1="275.83" y1="624.00" x2="278.43" y2="624.00" stroke="#75757d" stroke-width="1" />
<line x1="275.83" y1="652.00" x2="278.43" y2="652.00" stroke="#75757d" stroke-width="1" />
<line x1="294.50" y1="616.00" x2="294.50" y2="644.00" stroke="#a6a6ae" stroke-width="1.3" stroke-opacity="0.9"/>
<line x1="293.19" y1="616.00" x2="295.80" y2="616.00" stroke="#75757d" stroke-width="1" />
<line x1="293.19" y1="644.00" x2="295.80" y2="644.00" stroke="#75757d" stroke-width="1" />
<line x1="311.86" y1="623.25" x2="311.86" y2="651.25" stroke="#a6a6ae" stroke-width="1.3" stroke-opacity="0.9"/>
<line x1="310.56" y1="623.25" x2="313.16" y2="623.25" stroke="#75757d" stroke-width="1" />
<line x1="310.56" y1="651.25" x2="313.16" y2="651.25" stroke="#75757d" stroke-width="1" />
<line x1="329.22" y1="621.50" x2="329.22" y2="650.50" stroke="#a6a6ae" stroke-width="1.3" stroke-opacity="0.9"/>
<line x1="327.92" y1="621.50" x2="330.52" y2="621.50" stroke="#75757d" stroke-width="1" />
<line x1="327.92" y1="650.50" x2="330.52" y2="650.50" stroke="#75757d" stroke-width="1" />
<line x1="346.59" y1="618.75" x2="346.59" y2="648.75" stroke="#a6a6ae" stroke-width="1.3" stroke-opacity="0.9"/>
<line x1="345.29" y1="618.75" x2="347.89" y2="618.75" stroke="#75757d" stroke-width="1" />
<line x1="345.29" y1="648.75" x2="347.89" y2="648.75" stroke="#75757d" stroke-width="1" />
<line x1="363.95" y1="609.00" x2="363.95" y2="639.00" stroke="#a6a6ae" stroke-width="1.3" stroke-opacity="0.9"/>
<line x1="362.65" y1="609.00" x2="365.25" y2="609.00" stroke="#75757d" stroke-width="1" />
<line x1="362.65" y1="639.00" x2="365.25" y2="639.00" stroke="#75757d" stroke-width="1" />
<line x1="381.32" y1="619.90" x2="381.32" y2="651.90" stroke="#a6a6ae" stroke-width="1.3" stroke-opacity="0.9"/>
<line x1="380.02" y1="619.90" x2="382.62" y2="619.90" stroke="#75757d" stroke-width="1" />
<line x1="380.02" y1="651.90" x2="382.62" y2="651.90" stroke="#75757d" stroke-width="1" />
<line x1="398.68" y1="615.90" x2="398.68" y2="647.90" stroke="#a6a6ae" stroke-width="1.3" stroke-opacity="0.9"/>
<line x1="397.38" y1="615.90" x2="399.98" y2="615.90" stroke="#75757d" stroke-width="1" />
<line x1="397.38" y1="647.90" x2="399.98" y2="647.90" stroke="#75757d" stroke-width="1" />
<line x1="416.05" y1="614.75" x2="416.05" y2="650.25" stroke="#a6a6ae" stroke-width="1.3" stroke-opacity="0.9"/>
<line x1="414.75" y1="614.75" x2="417.35" y2="614.75" stroke="#75757d" stroke-width="1" />
<line x1="414.75" y1="650.25" x2="417.35" y2="650.25" stroke="#75757d" stroke-width="1" />
<line x1="433.41" y1="601.40" x2="433.41" y2="638.60" stroke="#a6a6ae" stroke-width="1.3" stroke-opacity="0.9"/>
<line x1="432.11" y1="601.40" x2="434.71" y2="601.40" stroke="#75757d" stroke-width="1" />
<line x1="432.11" y1="638.60" x2="434.71" y2="638.60" stroke="#75757d" stroke-width="1" />
<line x1="450.78" y1="614.75" x2="450.78" y2="658.75" stroke="#a6a6ae" stroke-width="1.3" stroke-opacity="0.9"/>
<line x1="449.48" y1="614.75" x2="452.08" y2="614.75" stroke="#75757d" stroke-width="1" />
<line x1="449.48" y1="658.75" x2="452.08" y2="658.75" stroke="#75757d" stroke-width="1" />
<line x1="468.14" y1="586.75" x2="468.14" y2="651.75" stroke="#a6a6ae" stroke-width="1.3" stroke-opacity="0.9"/>
<line x1="466.84" y1="586.75" x2="469.44" y2="586.75" stroke="#75757d" stroke-width="1" />
<line x1="466.84" y1="651.75" x2="469.44" y2="651.75" stroke="#75757d" stroke-width="1" />
<line x1="485.51" y1="566.75" x2="485.51" y2="666.75" stroke="#a6a6ae" stroke-width="1.3" stroke-opacity="0.9"/>
<line x1="484.21" y1="566.75" x2="486.81" y2="566.75" stroke="#75757d" stroke-width="1" />
<line x1="484.21" y1="666.75" x2="486.81" y2="666.75" stroke="#75757d" stroke-width="1" />
<polyline points="68.75,617 86.11,626.5 103.48,630 120.84,632 138.21,637.5 155.57,637.9 172.94,628 190.31,630.6 207.67,638.5 225.03,637.25 242.40,627.4 259.76,631 277.13,628.5 294.50,630 311.86,647.1 329.22,640 346.59,636.9 363.95,630.4 381.32,643.4 398.68,603.1 416.05,632.5" fill="none" stroke="#b3215a" stroke-width="1.25"/>
<polyline points="68.75,624.4 86.11,626.5 103.48,634 120.84,626.25 138.21,629.8 155.57,637.9 172.94,624 190.31,627.9 207.67,633.5 225.03,628.5 242.40,630.5 259.76,627.75 277.13,638 294.50,630 311.86,637.25 329.22,636 346.59,633.75 363.95,624 381.32,635.9 398.68,631.9 416.05,632.5 433.41,620 450.78,636.75 468.14,619.25 485.51,616.75" fill="none" stroke="#2a3d68" stroke-width="1.25"/>
<circle cx="68.75" cy="617" r="1.8" fill="#b3215a"/>
<circle cx="86.11" cy="626.5" r="1.8" fill="#b3215a"/>
<circle cx="103.48" cy="630" r="1.8" fill="#b3215a"/>
<circle cx="120.84" cy="632" r="1.8" fill="#b3215a"/>
<circle cx="138.21" cy="637.5" r="1.8" fill="#b3215a"/>
<circle cx="155.57" cy="637.9" r="1.8" fill="#b3215a"/>
<circle cx="172.94" cy="628" r="1.8" fill="#b3215a"/>
<circle cx="190.31" cy="630.6" r="1.8" fill="#b3215a"/>
<circle cx="207.67" cy="638.5" r="1.8" fill="#b3215a"/>
<circle cx="225.03" cy="637.25" r="1.8" fill="#b3215a"/>
<circle cx="242.40" cy="627.4" r="1.8" fill="#b3215a"/>
<circle cx="259.76" cy="631" r="1.8" fill="#b3215a"/>
<circle cx="277.13" cy="628.5" r="1.8" fill="#b3215a"/>
<circle cx="294.50" cy="630" r="1.8" fill="#b3215a"/>
<circle cx="311.86" cy="647.1" r="1.8" fill="#b3215a"/>
<circle cx="329.22" cy="640" r="1.8" fill="#b3215a"/>
<circle cx="346.59" cy="636.9" r="1.8" fill="#b3215a"/>
<circle cx="363.95" cy="630.4" r="1.8" fill="#b3215a"/>
<circle cx="381.32" cy="643.4" r="1.8" fill="#b3215a"/>
<circle cx="398.68" cy="603.1" r="1.8" fill="#b3215a"/>
<circle cx="416.05" cy="632.5" r="1.8" fill="#b3215a"/>
<circle cx="68.75" cy="624.4" r="1.8" fill="#2a3d68"/>
<circle cx="86.11" cy="626.5" r="1.8" fill="#2a3d68"/>
<circle cx="103.48" cy="634" r="1.8" fill="#2a3d68"/>
<circle cx="120.84" cy="626.25" r="1.8" fill="#2a3d68"/>
<circle cx="138.21" cy="629.8" r="1.8" fill="#2a3d68"/>
<circle cx="155.57" cy="637.9" r="1.8" fill="#2a3d68"/>
<circle cx="172.94" cy="624" r="1.8" fill="#2a3d68"/>
<circle cx="190.31" cy="627.9" r="1.8" fill="#2a3d68"/>
<circle cx="207.67" cy="633.5" r="1.8" fill="#2a3d68"/>
<circle cx="225.03" cy="628.5" r="1.8" fill="#2a3d68"/>
<circle cx="242.40" cy="630.5" r="1.8" fill="#2a3d68"/>
<circle cx="259.76" cy="627.75" r="1.8" fill="#2a3d68"/>
<circle cx="277.13" cy="638" r="1.8" fill="#2a3d68"/>
<circle cx="294.50" cy="630" r="1.8" fill="#2a3d68"/>
<circle cx="311.86" cy="637.25" r="1.8" fill="#2a3d68"/>
<circle cx="329.22" cy="636" r="1.8" fill="#2a3d68"/>
<circle cx="346.59" cy="633.75" r="1.8" fill="#2a3d68"/>
<circle cx="363.95" cy="624" r="1.8" fill="#2a3d68"/>
<circle cx="381.32" cy="635.9" r="1.8" fill="#2a3d68"/>
<circle cx="398.68" cy="631.9" r="1.8" fill="#2a3d68"/>
<circle cx="416.05" cy="632.5" r="1.8" fill="#2a3d68"/>
<circle cx="433.41" cy="620" r="1.8" fill="#2a3d68"/>
<circle cx="450.78" cy="636.75" r="1.8" fill="#2a3d68"/>
<circle cx="468.14" cy="619.25" r="1.8" fill="#2a3d68"/>
<circle cx="485.51" cy="616.75" r="1.8" fill="#2a3d68"/>
<text x="70.5" y="633.75" font-size="8.3" text-anchor="start" fill="#465e80" stroke="#465e80" stroke-width="0.18" >77</text>
<text x="89.0" y="625.1" font-size="8.3" text-anchor="start" fill="#465e80" stroke="#465e80" stroke-width="0.18" >77</text>
<text x="105.75" y="641.4" font-size="8.3" text-anchor="start" fill="#465e80" stroke="#465e80" stroke-width="0.18" >76</text>
<text x="123.0" y="625.5" font-size="8.3" text-anchor="start" fill="#465e80" stroke="#465e80" stroke-width="0.18" >74</text>
<text x="140.75" y="630.5" font-size="8.3" text-anchor="start" fill="#465e80" stroke="#465e80" stroke-width="0.18" >75</text>
<text x="157.2" y="628.7" font-size="8.3" text-anchor="start" fill="#465e80" stroke="#465e80" stroke-width="0.18" >71</text>
<text x="173.9" y="622.5" font-size="8.3" text-anchor="start" fill="#465e80" stroke="#465e80" stroke-width="0.18" >66</text>
<text x="191.4" y="627.7" font-size="8.3" text-anchor="start" fill="#465e80" stroke="#465e80" stroke-width="0.18" >66</text>
<text x="208.9" y="629.6" font-size="8.3" text-anchor="start" fill="#465e80" stroke="#465e80" stroke-width="0.18" >61</text>
<text x="226.4" y="627.4" font-size="8.3" text-anchor="start" fill="#465e80" stroke="#465e80" stroke-width="0.18" >58</text>
<text x="244.5" y="638.6" font-size="8.3" text-anchor="start" fill="#465e80" stroke="#465e80" stroke-width="0.18" >53</text>
<text x="260.5" y="625.8" font-size="8.3" text-anchor="start" fill="#465e80" stroke="#465e80" stroke-width="0.18" >47</text>
<text x="278.25" y="645.8" font-size="8.3" text-anchor="start" fill="#465e80" stroke="#465e80" stroke-width="0.18" >43</text>
<text x="295.75" y="647.4" font-size="8.3" text-anchor="start" fill="#465e80" stroke="#465e80" stroke-width="0.18" >41</text>
<text x="313.25" y="635.8" font-size="8.3" text-anchor="start" fill="#465e80" stroke="#465e80" stroke-width="0.18" >38</text>
<text x="330.5" y="634.25" font-size="8.3" text-anchor="start" fill="#465e80" stroke="#465e80" stroke-width="0.18" >39</text>
<text x="347.0" y="628.0" font-size="8.3" text-anchor="start" fill="#465e80" stroke="#465e80" stroke-width="0.18" >33</text>
<text x="365.1" y="623.0" font-size="8.3" text-anchor="start" fill="#465e80" stroke="#465e80" stroke-width="0.18" >30</text>
<text x="382.0" y="629.25" font-size="8.3" text-anchor="start" fill="#465e80" stroke="#465e80" stroke-width="0.18" >31</text>
<text x="400.1" y="639.9" font-size="8.3" text-anchor="start" fill="#465e80" stroke="#465e80" stroke-width="0.18" >29</text>
<text x="416.5" y="625.25" font-size="8.3" text-anchor="start" fill="#465e80" stroke="#465e80" stroke-width="0.18" >23</text>
<text x="434.5" y="620.0" font-size="8.3" text-anchor="start" fill="#465e80" stroke="#465e80" stroke-width="0.18" >19</text>
<text x="452.0" y="641.6" font-size="8.3" text-anchor="start" fill="#465e80" stroke="#465e80" stroke-width="0.18" >12</text>
<text x="470.0" y="616.25" font-size="8.3" text-anchor="start" fill="#465e80" stroke="#465e80" stroke-width="0.18" >5</text>
<text x="485.75" y="615.0" font-size="8.3" text-anchor="start" fill="#465e80" stroke="#465e80" stroke-width="0.18" >2</text>
<text x="71.6" y="615.7" font-size="8.3" text-anchor="start" fill="#a64677" stroke="#a64677" stroke-width="0.18" >131</text>
<text x="87.4" y="636.7" font-size="8.3" text-anchor="start" fill="#a64677" stroke="#a64677" stroke-width="0.18" >115</text>
<text x="105.1" y="628.6" font-size="8.3" text-anchor="start" fill="#a64677" stroke="#a64677" stroke-width="0.18" >79</text>
<text x="123.0" y="644.25" font-size="8.3" text-anchor="start" fill="#a64677" stroke="#a64677" stroke-width="0.18" >56</text>
<text x="141.5" y="645.5" font-size="8.3" text-anchor="start" fill="#a64677" stroke="#a64677" stroke-width="0.18" >32</text>
<text x="157.5" y="643.3" font-size="8.3" text-anchor="start" fill="#a64677" stroke="#a64677" stroke-width="0.18" >21</text>
<text x="174.5" y="637.7" font-size="8.3" text-anchor="start" fill="#a64677" stroke="#a64677" stroke-width="0.18" >18</text>
<text x="191.5" y="642.4" font-size="8.3" text-anchor="start" fill="#a64677" stroke="#a64677" stroke-width="0.18" >18</text>
<text x="209.5" y="646.75" font-size="8.3" text-anchor="start" fill="#a64677" stroke="#a64677" stroke-width="0.18" >11</text>
<text x="229.5" y="643.25" font-size="8.3" text-anchor="start" fill="#a64677" stroke="#a64677" stroke-width="0.18" >7</text>
<text x="244.5" y="626.75" font-size="8.3" text-anchor="start" fill="#a64677" stroke="#a64677" stroke-width="0.18" >6</text>
<text x="262.0" y="638.75" font-size="8.3" text-anchor="start" fill="#a64677" stroke="#a64677" stroke-width="0.18" >5</text>
<text x="279.25" y="627.4" font-size="8.3" text-anchor="start" fill="#a64677" stroke="#a64677" stroke-width="0.18" >5</text>
<text x="296.4" y="631.1" font-size="8.3" text-anchor="start" fill="#a64677" stroke="#a64677" stroke-width="0.18" >5</text>
<text x="313.9" y="653.25" font-size="8.3" text-anchor="start" fill="#a64677" stroke="#a64677" stroke-width="0.18" >5</text>
<text x="331.0" y="646.75" font-size="8.3" text-anchor="start" fill="#a64677" stroke="#a64677" stroke-width="0.18" >5</text>
<text x="348.0" y="643.5" font-size="8.3" text-anchor="start" fill="#a64677" stroke="#a64677" stroke-width="0.18" >5</text>
<text x="365.1" y="642.0" font-size="8.3" text-anchor="start" fill="#a64677" stroke="#a64677" stroke-width="0.18" >4</text>
<text x="383.5" y="648.9" font-size="8.3" text-anchor="start" fill="#a64677" stroke="#a64677" stroke-width="0.18" >3</text>
<text x="400.1" y="605.2" font-size="8.3" text-anchor="start" fill="#a64677" stroke="#a64677" stroke-width="0.18" >2</text>
<text x="418.25" y="640.0" font-size="8.3" text-anchor="start" fill="#a64677" stroke="#a64677" stroke-width="0.18" >2</text>
<text x="169.25" y="820.5" font-size="9.7" text-anchor="start" fill="#1a1a1a" stroke="#1a1a1a" stroke-width="0.18" textLength="46.25" lengthAdjust="spacingAndGlyphs" stroke-opacity="0.3">Response:</text>
<line x1="227.50" y1="816.75" x2="235.50" y2="816.75" stroke="#2a3d68" stroke-width="1.2" />
<circle cx="231.5" cy="816.75" r="1.7" fill="#2a3d68"/>
<text x="241.75" y="820.5" font-size="9.7" text-anchor="start" fill="#1a1a1a" stroke="#1a1a1a" stroke-width="0.18" textLength="48.25" lengthAdjust="spacingAndGlyphs" stroke-opacity="0.3">Responder</text>
<line x1="304.50" y1="816.75" x2="312.50" y2="816.75" stroke="#b3215a" stroke-width="1.2" />
<circle cx="308.5" cy="816.75" r="1.7" fill="#b3215a"/>
<text x="316.25" y="820.5" font-size="9.7" text-anchor="start" fill="#1a1a1a" stroke="#1a1a1a" stroke-width="0.18" textLength="71.25" lengthAdjust="spacingAndGlyphs" stroke-opacity="0.3">Non-Responder</text>
<text x="3" y="855" font-size="12.9" fill="#111" stroke="#111" stroke-width="0.3" textLength="514.5" lengthAdjust="spacingAndGlyphs"><tspan font-weight="bold">Fig.</tspan> A) sBCMA level relative to baseline. B) Aggregate neutrophil-to-lymphocyte ratio</text>
<text x="3" y="882" font-size="12.9" fill="#111" stroke="#111" stroke-width="0.3" textLength="294.5" lengthAdjust="spacingAndGlyphs">by response status and timepoint in DREAMM-2.</text>
</svg>
</body></html>
